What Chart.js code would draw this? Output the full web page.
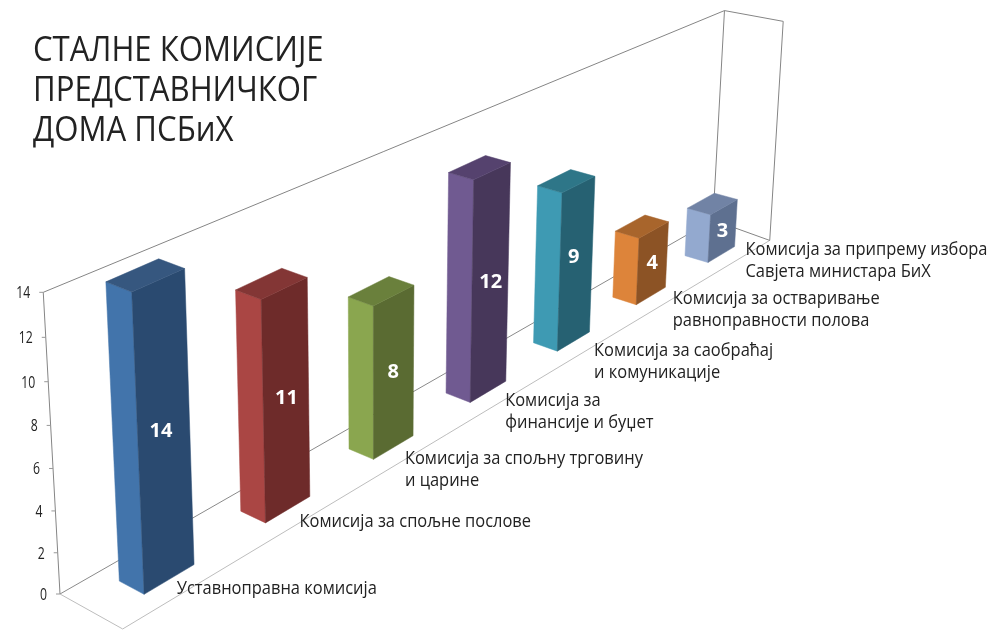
<!DOCTYPE html>
<html>
<head>
<meta charset="utf-8">
<style>html,body{margin:0;padding:0;background:#fff}canvas{display:block}</style>
<script src="https://cdn.jsdelivr.net/npm/chart.js@4"></script>
</head>
<body>
<canvas id="c" width="995" height="632"></canvas>
<script>
const categories = [
  ['Уставноправна комисија'],
  ['Комисија за спољне послове'],
  ['Комисија за спољну трговину', 'и царине'],
  ['Комисија за', 'финансије и буџет'],
  ['Комисија за саобраћај', 'и комуникације'],
  ['Комисија за остваривање', 'равноправности полова'],
  ['Комисија за припрему избора', 'Савјета министара БиХ']
];
const values = [14, 11, 8, 12, 9, 4, 3];
const titleLines = ['СТАЛНЕ КОМИСИЈЕ', 'ПРЕДСТАВНИЧКОГ', 'ДОМА ПСБиХ'];
const frontColors = ['#4274AB', '#AA4644', '#8AA64F', '#705A91', '#3E9AB3', '#DD843A', '#93A9CF'];
const sideColors = ['#2A4A70', '#6E2B2A', '#5A6B32', '#47375A', '#266172', '#8C5325', '#5E7090'];
const topColors = ['#36577F', '#833635', '#6A803C', '#55426E', '#2E7688', '#A8652C', '#7183A5'];
const labelNudge = [[-11, -1], [-7, 4], [-7, 5], [-1, 5], [3, 6], [5, 1], [8, -6]];
const valueNudge = [[-2, 2], [1, -1], [0, 0], [1, 1], [-2, -6], [0, 0], [0, 0]];

const FONT = '"Open Sans","Noto Sans",sans-serif';
const TEXT_SQUEEZE = 0.89, TICK_SQUEEZE = 0.72;
const TITLE_LEFT = 33;
const Z_BACK = 0.355, Z_FRONT = 0.75;

// perspective of the 3D box: s along the categories, z across, h up the value axis (all 0..1)
function project(s, z, h) {
  const w = 1 + 0.44 * s - 0.03 * z - 0.05 * h;
  return {
    x: (60 + 966.7 * s + 59 * z - 18.9 * h) / w,
    y: (594 - 277.2 * s + 16.1 * z - 316.3 * h) / w
  };
}
// where the categories sit along the floor of the box
const slotS = s => 0.99 * s + 0.0013;
const slotZ = (z, s) => z + 0.1 * (s - 0.5);

function poly(ctx, pts, fill) {
  ctx.beginPath();
  pts.forEach((p, i) => i ? ctx.lineTo(p.x, p.y) : ctx.moveTo(p.x, p.y));
  ctx.closePath();
  ctx.fillStyle = fill;
  ctx.fill();
  ctx.strokeStyle = fill;
  ctx.lineWidth = 0.5;
  ctx.stroke();
}
function seg(ctx, a, b, color) {
  ctx.beginPath();
  ctx.moveTo(a.x, a.y);
  ctx.lineTo(b.x, b.y);
  ctx.strokeStyle = color;
  ctx.lineWidth = 1;
  ctx.stroke();
}

const box3d = {
  id: 'box3d',
  afterLayout(chart) {
    const tb = chart.titleBlock, yScale = chart.scales.y;
    if (!tb._squeezed) {
      tb._squeezed = true;
      const drawTitle = tb.draw;
      tb.draw = function (...a) {
        const ctx = this.ctx;
        ctx.save();
        ctx.translate(TITLE_LEFT - this.left * TEXT_SQUEEZE, 0);
        ctx.scale(TEXT_SQUEEZE, 1);
        drawTitle.apply(this, a);
        ctx.restore();
      };
    }
    if (!yScale._squeezed) {
      yScale._squeezed = true;
      const drawLabels = yScale.drawLabels;
      yScale._computeLabelArea = () => undefined;
      yScale.drawLabels = function (...a) {
        const ctx = this.ctx;
        ctx.save();
        ctx.scale(TICK_SQUEEZE, 1);
        drawLabels.apply(this, a);
        ctx.restore();
      };
    }
  },
  beforeDraw(chart) {
    const yScale = chart.scales.y;
    yScale.getLabelItems(chart.chartArea).forEach(item => {
      const p = project(0, 0, Number(item.label) / yScale.max);
      item.options.translation = [(p.x - 13) / TICK_SQUEEZE, p.y + 1];
    });
  },
  beforeDatasetsDraw(chart) {
    const ctx = chart.ctx, yScale = chart.scales.y;
    ctx.save();
    const wall = '#858585', floor = '#bdbdbd';
    const O = project(0, 0, 0), F = project(0, 1, 0), B = project(1, 0, 0), R = project(1, 1, -0.02);
    const T0 = project(0, 0, 1), Tb = project(1, 0, 0.955), Tr = project(1, 0.99, 0.96);
    seg(ctx, O, B, '#8a8a8a');
    seg(ctx, O, F, floor);
    seg(ctx, F, R, floor);
    seg(ctx, B, R, wall);
    seg(ctx, O, T0, wall);
    seg(ctx, T0, Tb, wall);
    seg(ctx, B, Tb, wall);
    seg(ctx, Tb, Tr, wall);
    seg(ctx, R, Tr, wall);
    yScale.ticks.forEach(t => {
      const p = project(0, 0, t.value / yScale.max);
      seg(ctx, {x: p.x - 4, y: p.y}, p, '#999');
    });
    ctx.restore();
  },
  beforeDatasetDraw(chart, args) {
    const ctx = chart.ctx, area = chart.chartArea;
    ctx.save();
    chart.getDatasetMeta(args.index).data.forEach((el, i) => {
      const s0 = slotS((el.x - el.width / 2 - area.left) / area.width);
      const s1 = slotS((el.x + el.width / 2 - area.left) / area.width);
      const zb = slotZ(Z_BACK, s0), zf = slotZ(Z_FRONT, s0);
      const h = (el.base - el.y) / area.height;
      const BL = project(s0, zb, 0), BM = project(s0, zf, 0), BR = project(s1, zf, 0);
      const TL = project(s0, zb, h), TM = project(s0, zf, h), TR = project(s1, zf, h), TB = project(s1, zb, h);
      poly(ctx, [TL, TM, BM, BL], frontColors[i]);
      poly(ctx, [TM, TR, BR, BM], sideColors[i]);
      poly(ctx, [TL, TB, TR, TM], topColors[i]);
      ctx.fillStyle = '#fff';
      ctx.font = 'bold 20px ' + FONT;
      ctx.textAlign = 'center';
      ctx.textBaseline = 'middle';
      ctx.fillText(String(values[i]), (TM.x + BR.x) / 2 + valueNudge[i][0], (TM.y + BR.y) / 2 + 1 + valueNudge[i][1]);
    });
    ctx.restore();
    return false;
  },
  afterDatasetsDraw(chart) {
    const ctx = chart.ctx, area = chart.chartArea, xScale = chart.scales.x;
    ctx.save();
    ctx.fillStyle = '#222';
    ctx.font = '18.5px ' + FONT;
    ctx.textAlign = 'left';
    ctx.textBaseline = 'middle';
    categories.forEach((lines, i) => {
      const s = (xScale.getPixelForValue(i) - area.left) / area.width;
      const p = project(s, 1, 0);
      lines.forEach((line, k) => {
        const x = p.x + labelNudge[i][0], y = p.y + labelNudge[i][1] + k * 22;
        ctx.save();
        ctx.translate(x, y);
        ctx.scale(TEXT_SQUEEZE, 1);
        ctx.fillText(line, 0, 0);
        ctx.restore();
      });
    });
    ctx.restore();
  }
};

new Chart(document.getElementById('c'), {
  type: 'bar',
  data: {
    labels: categories,
    datasets: [{ data: values, backgroundColor: frontColors, categoryPercentage: 1, barPercentage: 0.40 }]
  },
  plugins: [box3d],
  options: {
    responsive: false,
    animation: false,
    layout: { padding: { left: 15, right: 225, bottom: 38 } },
    plugins: {
      legend: { display: false },
      tooltip: { enabled: false },
      title: {
        display: true,
        text: titleLines,
        align: 'start',
        color: '#222',
        padding: { top: 31, bottom: 141 },
        font: { family: FONT, size: 35, weight: 'normal', lineHeight: 1.143 }
      }
    },
    scales: {
      x: { display: false },
      y: {
        min: 0,
        max: 14,
        grid: { display: false },
        border: { display: false },
        ticks: { stepSize: 2, color: '#222', font: { family: FONT, size: 17 } }
      }
    }
  }
});
</script>
</body>
</html>
